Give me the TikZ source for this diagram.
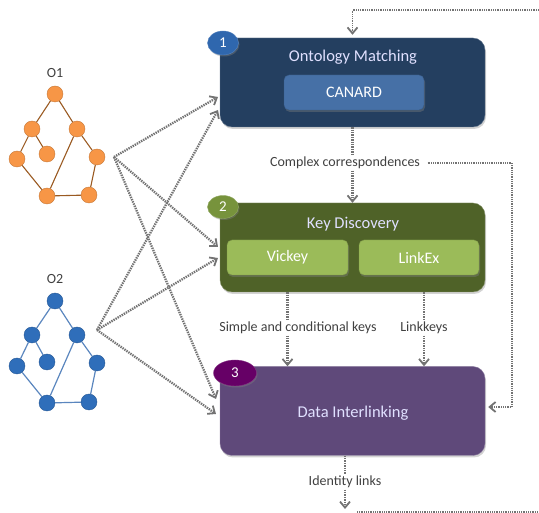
\documentclass[tikz,border=0pt]{standalone}
\usepackage{fontspec}
\setmainfont{Carlito}
\usepackage{tikz}
\usetikzlibrary{arrows.meta,shapes.geometric,shadows,calc}
\usepackage{xcolor}
\definecolor{matchdark}{HTML}{243F60}
\definecolor{matchlight}{HTML}{4670A6}
\definecolor{matchbadge}{HTML}{2F67AE}
\definecolor{keydark}{HTML}{4F6228}
\definecolor{keylight}{HTML}{9BBB59}
\definecolor{keybadge}{HTML}{77933C}
\definecolor{linkdark}{HTML}{5F497A}
\definecolor{linkbadge}{HTML}{660066}
\definecolor{orangefill}{HTML}{F79646}
\definecolor{orangeline}{HTML}{9A5A22}
\definecolor{bluefill}{HTML}{2F6EBA}
\definecolor{blueline}{HTML}{5A86BE}
\definecolor{labelgray}{HTML}{404040}

\begin{document}
\begin{tikzpicture}[x=1pt,y=1pt,
        stage/.style={rectangle, rounded corners=12pt, minimum width=265pt, minimum height=89pt,
            draw=#1!70!white, fill=#1, drop shadow={shadow xshift=1pt, shadow yshift=-2pt, opacity=0.35}},
        tool/.style={rectangle, rounded corners=5pt, minimum height=35pt, text=white,
            draw=#1!80!black, fill=#1, font=\fontsize{16}{18}\selectfont,
            drop shadow={shadow xshift=1pt, shadow yshift=-2pt, opacity=0.4}},
        badge/.style={ellipse, inner sep=0pt, fill=#1, draw=#1!80!white, text=white,
            font=\fontsize{15}{17}\selectfont, drop shadow={shadow xshift=1pt, shadow yshift=-1.5pt, opacity=0.4}},
        title/.style={text=white!88!blue, font=\fontsize{16.5}{18}\selectfont},
        tag/.style={text=labelgray, font=\fontsize{14}{16}\selectfont, inner sep=1.5pt},
        orangevertex/.style={circle, minimum size=16pt, inner sep=0pt, fill=orangefill, draw=orangefill!80!black},
        bluevertex/.style={circle, minimum size=16pt, inner sep=0pt, fill=bluefill, draw=bluefill!80!black},
        o1link/.style={draw=orangeline, line width=1.1pt},
        o2link/.style={draw=blueline, line width=1.2pt},
        feed/.style={draw=black!55, line width=2.3pt, dash pattern=on 1.4pt off 1pt,
            -{Straight Barb[length=6pt,width=10pt,line width=1.8pt]}},
        flow/.style={draw=black!55, line width=2.3pt, dash pattern=on 1.4pt off 1pt},
        loopback/.style={draw=black!55, line width=1.5pt, dash pattern=on 1pt off 0.8pt},
        ]
        \useasboundingbox (0,0) rectangle (539,-513);

        % three stages
        \node (box1) at (352.5,-82.5) [stage=matchdark] {};
        \node (box2) at (352.5,-247.5) [stage=keydark] {};
        \node (box3) at (352.5,-411) [stage=linkdark] {};

        \node (badge1) at (223,-43) [badge=matchbadge, minimum width=31pt, minimum height=24pt] {1};
        \node (badge2) at (223,-207) [badge=keybadge, minimum width=31pt, minimum height=23pt] {2};
        \node (badge3) at (235,-373) [badge=linkbadge, minimum width=43pt, minimum height=26pt] {3};

        \node (match) at (353,-57) [title] {Ontology Matching};
        \node (canard) at (354,-92.5) [tool=matchlight, minimum width=140pt] {CANARD};
        \node (keydisc) at (353,-224) [title] {Key Discovery};
        \node (vickey) at (287.5,-257.5) [tool=keylight, minimum width=121pt] {Vickey};
        \node (linkex) at (419,-257.5) [tool=keylight, minimum width=120pt] {LinkEx};
        \node (interlink) at (353,-413) [title] {Data Interlinking};

        % labels between stages
        \node (complex) at (345,-163) [tag] {Complex correspondences};
        \node (keys) at (298,-328) [tag] {Simple and conditional keys};
        \node (linkkeys) at (424,-328) [tag] {Linkkeys};
        \node (identity) at (345,-482) [tag] {Identity links};

        \coordinate (topright) at (539,-10);
        \coordinate (loopcorner) at (512,-163);
        \coordinate (bottomend) at (345,-509);
        \coordinate (bottomstart) at (357,-512);
        \coordinate (bottomright) at (539,-512);

        \draw[loopback, -{Straight Barb[length=6pt,width=10pt,line width=1.8pt]}] (topright) -- (box1.north |- topright) -- ($(box1.north)+(0,3)$);
        \draw[flow] (box1.south) -- (box1.south |- complex.north);
        \draw[feed] (box1.south |- complex.south) -- (box2.north);
        \draw[loopback] ($(complex.east)+(6,0)$) -- (loopcorner);
        \draw[loopback, -{Straight Barb[length=6pt,width=10pt,line width=1.8pt]}] (loopcorner) |- ($(box3.east)+(3,4)$);
        \draw[flow] (vickey |- box2.south) -- (vickey |- keys.north);
        \draw[feed] (vickey |- keys.south) -- (vickey |- box3.north);
        \draw[flow] (linkkeys |- box2.south) -- (linkkeys.north);
        \draw[feed] (linkkeys.south) -- (linkkeys |- box3.north);
        \draw[flow] (identity.north |- box3.south) -- (identity.north);
        \draw[feed] (identity.south) -- (bottomend);
        \draw[loopback] (bottomstart) -- (bottomright);

        % ontology O1
        \node (o1name) at (55,-73) [tag] {O1};
        \node (o1v8) at (89,-195) [orangevertex] {};
        \node (o1v7) at (47,-196) [orangevertex] {}
            edge [o1link] (o1v8);
        \node (o1v6) at (97,-157) [orangevertex] {}
            edge [o1link] (o1v8);
        \node (o1v5) at (47,-154) [orangevertex] {};
        \node (o1v4) at (17,-159) [orangevertex] {}
            edge [o1link] (o1v7);
        \node (o1v3) at (77,-129) [orangevertex] {}
            edge [o1link] (o1v6)
            edge [o1link] (o1v7);
        \node (o1v2) at (32,-129) [orangevertex] {}
            edge [o1link] (o1v4)
            edge [o1link] (o1v5);
        \node (o1v1) at (55,-94) [orangevertex] {}
            edge [o1link] (o1v2)
            edge [o1link] (o1v3);

        % ontology O2
        \node (o2name) at (55,-279) [tag] {O2};
        \node (o2v8) at (89,-402) [bluevertex] {};
        \node (o2v7) at (47,-403) [bluevertex] {}
            edge [o2link] (o2v8);
        \node (o2v6) at (97,-363) [bluevertex] {}
            edge [o2link] (o2v8);
        \node (o2v5) at (47,-362) [bluevertex] {};
        \node (o2v4) at (17,-366) [bluevertex] {}
            edge [o2link] (o2v7);
        \node (o2v3) at (77,-335) [bluevertex] {}
            edge [o2link] (o2v6)
            edge [o2link] (o2v7);
        \node (o2v2) at (32,-335) [bluevertex] {}
            edge [o2link] (o2v4)
            edge [o2link] (o2v5);
        \node (o2v1) at (55,-301) [bluevertex] {}
            edge [o2link] (o2v2)
            edge [o2link] (o2v3);

        % ontologies feed every stage
        \coordinate (o1out) at (114,-157);
        \coordinate (o2out) at (97,-330);
        \coordinate (in1a) at (218,-97);
        \coordinate (in1b) at (218,-110);
        \coordinate (in2a) at (218,-247);
        \coordinate (in2b) at (218,-258);
        \coordinate (in3a) at (216,-399);
        \coordinate (in3b) at (216,-414);
        \draw[feed] (o1out) -- (in1a);
        \draw[feed] (o1out) -- (in2a);
        \draw[feed] (o1out) -- (in3a);
        \draw[feed] (o2out) -- (in1b);
        \draw[feed] (o2out) -- (in2b);
        \draw[feed] (o2out) -- (in3b);

    \end{tikzpicture}
\end{document}
